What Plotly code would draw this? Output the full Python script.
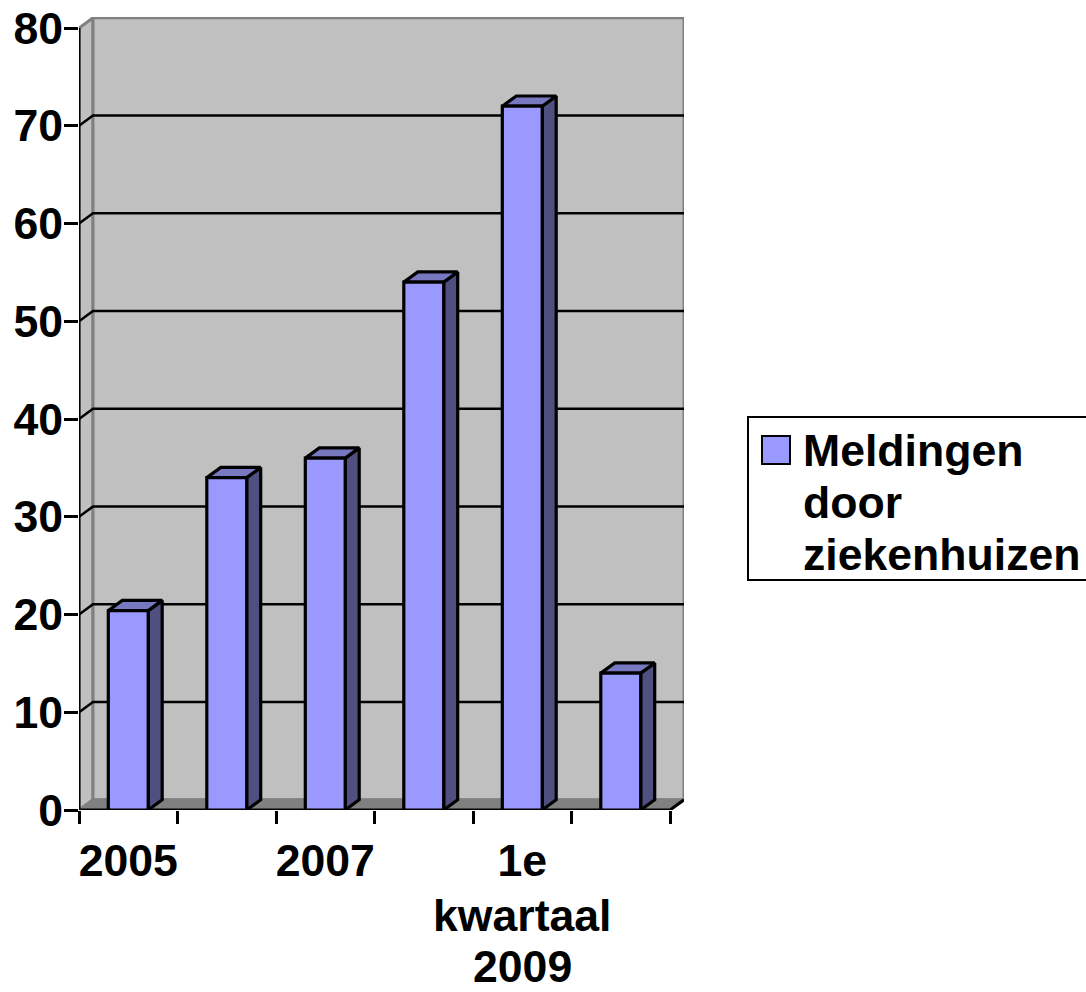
import plotly.graph_objects as go

categories = ["2005", "2006", "2007", "2008", "1e kwartaal 2009", "2e kwartaal 2009"]
tick_labels = ["2005", " ", "2007", " ", "1e", " "]
extra_label_lines = ["kwartaal", "2009"]
values = [20.4, 34, 36, 54, 72, 14]
series_name = ["Meldingen", "door", "ziekenhuizen"]
y_ticks = [0, 10, 20, 30, 40, 50, 60, 70, 80]

W, H = 1086, 992
L, R, T, B = 79, 684, 17, 810
PX_X = 98.5
PX_Y = 9.775
DX = 14 / PX_X
DY = 10.2 / PX_Y
BAR_W = 0.405
FONT = "Liberation Sans"
FS = 44.6
LW = 2.6
BAR_LW = 3.2
WALL, EDGE = "#C0C0C0", "#808080"
FACE, SIDE, TOP = "#9999FF", "#4F4F80", "#7878C0"


def px(x):
    return (x - L) / (R - L)


def py(y):
    return (B - y) / (B - T)


fig = go.Figure()


def poly(xs, ys, fill=None, color="black", width=LW):
    fig.add_trace(go.Scatter(
        x=xs, y=ys, mode="lines", xaxis="x", yaxis="y", showlegend=False, hoverinfo="skip",
        cliponaxis=False, fill="toself" if fill else None, fillcolor=fill,
        line=dict(color=color, width=width, shape="linear"),
    ))


x0, x1, top = -0.5, 5.5, y_ticks[-1]
# walls and floor
poly([x0, x0 + DX, x0 + DX, x0, x0], [0, DY, top + DY, top, 0], fill=WALL, color=EDGE, width=3)
poly([x0 + DX, x1 + DX, x1 + DX, x0 + DX, x0 + DX], [DY, DY, top + DY, top + DY, DY], fill=WALL, color=EDGE, width=3)
poly([x0, x1, x1 + DX, x0 + DX, x0], [0, 0, DY, DY, 0], fill=EDGE, color=EDGE)
# gridlines
for v in y_ticks[1:-1]:
    poly([x0, x0 + DX, x1 + DX], [v, v + DY, v + DY])
# axis lines
poly([x0, x0], [0, top], width=3)
poly([x0, x1, x1 + DX], [0, 0, DY], width=3)
# 3D faces of the bars
for i, v in enumerate(values):
    a, b = i - BAR_W / 2, i + BAR_W / 2
    poly([b, b + DX, b + DX, b, b], [0, DY, v + DY, v, 0], fill=SIDE, width=BAR_LW)
    poly([a, b, b + DX, a + DX, a], [v, v, v + DY, v + DY, v], fill=TOP, width=BAR_LW)

fig.add_trace(go.Bar(
    x=categories, y=values, xaxis="x2", yaxis="y", name=" ".join(series_name), showlegend=False,
    cliponaxis=False, marker=dict(color=FACE, line=dict(color="black", width=BAR_LW)),
))

font = dict(family=FONT, size=FS, color="black", weight=700)
annotations = []
for line, ypx in zip(extra_label_lines, [915.5, 966]):
    annotations.append(dict(
        x=categories[4], y=py(ypx), xref="x2", yref="paper", text=line, showarrow=False,
        xanchor="center", yanchor="middle", font=font,
    ))
for k, line in enumerate(series_name):
    annotations.append(dict(
        x=px(800.5), y=py(450.5 + 52 * k), xref="paper", yref="paper", text=line, showarrow=False,
        xanchor="left", yanchor="middle", font=font,
    ))

shapes = [
    dict(type="rect", xref="paper", yref="paper", x0=px(748), x1=px(1090), y0=py(417), y1=py(580),
         line=dict(color="black", width=2), fillcolor="white", layer="below"),
    dict(type="rect", xref="paper", yref="paper", x0=px(762), x1=px(790), y0=py(436), y1=py(464),
         line=dict(color="black", width=2), fillcolor=FACE),
]

fig.update_layout(
    width=W, height=H, autosize=False, showlegend=False,
    margin=dict(l=L, r=W - R, t=T, b=H - B, pad=0, autoexpand=False),
    paper_bgcolor="white", plot_bgcolor="white", barmode="group", bargap=1 - BAR_W,
    font=font, annotations=annotations, shapes=shapes,
    xaxis=dict(range=[x0, x1 + DX], showgrid=False, zeroline=False, showticklabels=False,
               ticks="", showline=False, automargin=False),
    xaxis2=dict(overlaying="x", anchor="y", side="bottom", type="category", categoryorder="array",
                categoryarray=categories, range=[x0, x1 + DX], tickmode="array", tickvals=categories,
                ticktext=tick_labels, tickson="boundaries", ticks="outside", ticklen=13,
                tickwidth=LW, tickcolor="black", showgrid=False, zeroline=False, showline=False,
                tickfont=font, ticklabelstandoff=20, tickangle=0, automargin=False),
    yaxis=dict(range=[0, (B - T) / PX_Y], tickmode="array", tickvals=y_ticks, ticks="outside",
               ticklen=14, tickwidth=LW, tickcolor="black", showgrid=False, zeroline=False,
               showline=False, tickfont=font, automargin=False, ticklabelstandoff=-8),
)

fig.write_html("out.html", config=dict(displayModeBar=False),
               post_script="document.body.style.margin='0';document.body.style.overflow='hidden';")
